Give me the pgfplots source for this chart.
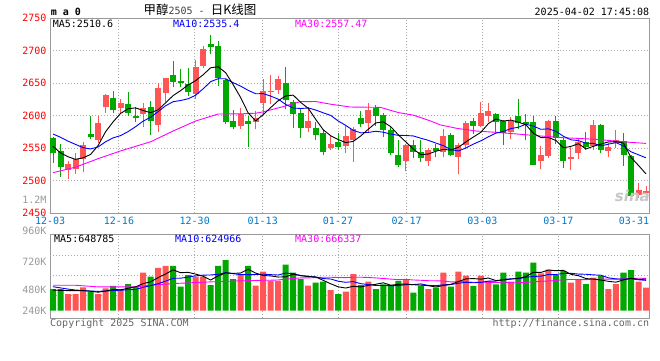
\documentclass[border=0pt]{standalone}
\usepackage{pgfplots}
\pgfplotsset{compat=1.18}
\usepackage{pgfplotstable}
\usepackage{fontspec}
\setmainfont{DejaVu Sans Mono}
\newfontfamily\cjk{Noto Sans CJK SC}
\newfontfamily\logofont{DejaVu Sans}
\definecolor{cred}{HTML}{FF5555}
\definecolor{cgreen}{HTML}{00A800}
\definecolor{cmag}{HTML}{FF00FF}
\definecolor{cblue}{HTML}{0000FF}
\definecolor{cdate}{HTML}{0078C8}
\definecolor{cgrid}{HTML}{AAAAAA}
\definecolor{cframe}{HTML}{999999}
\definecolor{clab}{HTML}{999999}
\newcommand\f{\fontsize{10bp}{12bp}\selectfont}

\pgfplotstableread{
i o h l c
2 2517 2530 2503 2525.5
3 2518.5 2543 2510.5 2533
4 2533 2560 2513 2555
6 2563 2600 2558 2589
7 2613 2633 2604 2632
9 2612 2626 2605 2620
12 2602 2620 2583 2612
14 2585.5 2650 2575 2642
15 2635 2658 2621 2657.5
19 2633 2686 2626 2674.5
20 2676 2708 2673 2703
25 2584 2612 2580 2603
27 2591 2608 2579 2597
28 2620 2657 2602 2638
29 2636 2662 2618 2637.5
30 2640 2661 2633 2656
34 2581.5 2613 2575 2592
37 2550 2571 2548 2557
39 2553 2585 2543 2569
40 2562.5 2582 2529 2580
42 2589.5 2619 2575 2609
47 2531 2556 2515.5 2555
50 2530 2551 2523 2547
52 2545 2580 2536 2569
54 2537 2558 2510 2555
55 2555 2592 2549 2589
57 2585 2621 2583 2605
58 2600 2620 2590 2607
61 2575 2598 2565 2591.5
65 2530.5 2554 2518 2540
66 2538 2593 2535 2592
69 2534 2553 2516 2536
70 2543 2564 2533 2560
72 2554 2594 2547 2586.5
74 2546 2557.5 2537 2552.5
75 2557.5 2578 2551 2562.5
78 2478 2496 2474 2486
79 2481 2492 2473 2485
}\redK

\pgfplotstableread{
i o h l c
0 2566 2567 2528 2542
1 2546.5 2556 2506 2521
5 2572 2599 2565 2568
8 2628 2638 2604 2609
10 2618 2637 2600 2604
11 2600 2614 2591 2596
13 2614 2622 2571 2592
16 2662 2684 2644 2652
17 2654 2672 2645 2650
18 2649 2674 2631 2636
21 2710 2725 2695 2706
22 2707 2715 2646 2658
23 2655 2657 2587 2590
24 2592 2609 2579 2583
26 2592 2600 2552 2588
31 2650 2675 2610 2625
32 2621 2624 2581 2603
33 2604 2610 2566 2581.5
35 2581.5 2590 2562 2571
36 2574 2580 2539 2545
38 2560 2573 2547 2552
41 2597 2607 2583 2587
43 2612 2616 2585 2600
44 2601 2605 2567 2578
45 2578 2585 2540 2542
46 2540 2562 2521.5 2524.5
48 2555 2563 2534.5 2545
49 2545 2562 2529 2534.5
51 2551 2557 2536 2546
53 2571 2573 2538 2540
56 2592.5 2596 2572 2584
59 2602 2605 2575 2590.5
60 2592 2594 2555 2573
62 2600 2626 2580 2589
63 2590 2602 2562 2587
64 2591 2599 2525 2525
67 2592 2599 2556 2566
68 2562.5 2566 2520 2531
71 2560 2575.5 2547 2552
73 2586.5 2587 2542 2548
76 2561 2574 2523 2540
77 2538 2539 2475 2477
}\greenK

\pgfplotstableread{
i v
0 2553
1 2543
2 2537
3 2533
4 2535.3
5 2540.5
6 2554.1
7 2575.4
8 2590.6
9 2603.6
10 2610.8
11 2612.2
12 2608.2
13 2604.8
14 2609.2
15 2619.9
16 2631.1
17 2638.7
18 2647.5
19 2654
20 2663.1
21 2673.9
22 2675.5
23 2666.3
24 2648
25 2628
26 2604.4
27 2592.2
28 2601.8
29 2612.6
30 2623.2
31 2630.6
32 2631.8
33 2620.5
34 2611.5
35 2594.5
36 2578.5
37 2569.3
38 2563.4
39 2558.8
40 2560.6
41 2569
42 2579.4
43 2589
44 2590.8
45 2583.2
46 2570.7
47 2559.9
48 2548.9
49 2540.2
50 2541.2
51 2545.5
52 2548.3
53 2547.3
54 2551.4
55 2559.8
56 2567.4
57 2574.6
58 2588
59 2595.1
60 2591.9
61 2593.4
62 2590.2
63 2586.2
64 2573.1
65 2566.5
66 2566.6
67 2562
68 2550.8
69 2553
70 2557
71 2549
72 2553.1
73 2556.5
74 2559.8
75 2560.3
76 2557.9
77 2536
78 2523.6
79 2510.6
}\maFive

\pgfplotstableread{
i v
0 2572
1 2567
2 2561
3 2556
4 2551
5 2549
6 2552
7 2560
8 2566
9 2569.5
10 2575.7
11 2583.2
12 2591.8
13 2597.7
14 2606.4
15 2615.4
16 2621.7
17 2623.5
18 2626.2
19 2631.6
20 2641.5
21 2652.5
22 2657.1
23 2656.9
24 2651
25 2645.6
26 2639.2
27 2633.9
28 2634.1
29 2630.3
30 2625.6
31 2617.5
32 2612
33 2611.2
34 2612.1
35 2608.9
36 2604.6
37 2600.6
38 2592
39 2585.2
40 2577.6
41 2573.8
42 2574.4
43 2576.2
44 2574.8
45 2571.9
46 2569.9
47 2569.7
48 2569
49 2565.5
50 2562.2
51 2558.1
52 2554.1
53 2548.1
54 2545.8
55 2550.5
56 2556.5
57 2561.5
58 2567.7
59 2573.3
60 2575.9
61 2580.4
62 2582.4
63 2587.1
64 2584.1
65 2579.2
66 2580
67 2576.1
68 2568.5
69 2563.1
70 2561.8
71 2557.8
72 2557.6
73 2553.7
74 2556.4
75 2558.7
76 2553.5
77 2544.6
78 2540
79 2535.4
}\maTen

\pgfplotstableread{
i v
0 2512.5
3 2521
6 2534
9 2546
13 2560
16 2576.6
19 2592
22 2602.7
25 2603
27 2604
28 2606
30.6 2614
32.9 2621.7
35 2622
36.9 2618
39.6 2613.5
43.6 2613
44.5 2610
46 2605
48 2601
50.2 2592.5
51.6 2586
53.8 2580.7
56.4 2576.6
59.1 2574.5
61.8 2572
64.4 2569.4
68 2566.3
72.4 2563.8
76 2560
79 2557.5
}\maThirty

\pgfplotstableread{
i v
2 344
3 344
4 482
6 344
7 461
9 447
12 783
14 880
15 921
19 700
20 700
25 735
27 515
28 803
29 612
30 612
34 515
37 426
39 391
40 756
42 597
47 632
50 447
52 783
54 803
55 721
57 721
58 612
61 597
65 770
66 845
69 577
70 632
72 680
74 447
75 550
78 597
79 474
}\redV

\pgfplotstableread{
i v
0 447
1 447
5 391
8 509
10 550
11 494
13 700
16 921
17 494
18 735
21 529
22 921
23 1044
24 653
26 921
31 948
32 783
33 653
35 577
36 597
38 344
41 529
43 447
44 544
45 515
46 612
48 371
49 515
51 474
53 494
56 509
59 544
60 783
62 803
63 783
64 989
67 735
68 818
71 550
73 715
76 783
77 838
}\greenV

\pgfplotstableread{
i v
0 425
1 418
2 414
3 412
4 413
5 402
6 381
7 404
8 437
9 430
10 462
11 492
12 557
13 595
14 681
15 756
16 841
17 783
18 790
19 754
20 710
21 632
22 717
23 779
24 769
25 776
26 855
27 774
28 725
29 717
30 693
31 698
32 752
33 722
34 702
35 695
36 625
37 554
38 492
39 467
40 503
41 489
42 523
43 544
44 575
45 526
46 543
47 550
48 535
49 529
50 515
51 488
52 518
53 543
54 600
55 655
56 662
57 650
58 673
59 621
60 634
61 651
62 668
63 702
64 791
65 788
66 838
67 824
68 831
69 749
70 721
71 662
72 651
73 631
74 605
75 588
76 635
77 667
78 643
79 649
}\vmaFive

\pgfplotstableread{
i v
0 494
1 470
2 445
3 426
4 415
5 405
6 399
7 405
8 415
9 422
10 432
11 437
12 481
13 516
14 556
15 609
16 667
17 670
18 693
19 718
20 733
21 736
22 750
23 785
24 762
25 743
26 743
27 745
28 752
29 743
30 735
31 776
32 763
33 724
34 710
35 694
36 662
37 653
38 607
39 585
40 599
41 557
42 539
43 518
44 521
45 515
46 516
47 537
48 539
49 552
50 521
51 515
52 534
53 539
54 565
55 585
56 575
57 584
58 608
59 611
60 644
61 657
62 659
63 688
64 706
65 711
66 745
67 746
68 767
69 770
70 755
71 750
72 738
73 731
74 677
75 655
76 649
77 659
78 637
79 625
}\vmaTen

\pgfplotstableread{
i v
0 524
3 524
6 491
11 491
13 524
16 559
21 594
25 615
28 627
29 628
30 633
31 650
32 664
33 675
34 676
35 682
36 690
37 689
38 684
39 682
40 689
41 690
42 684
43 675
44 664
45 651
46 640
47 645
48 633
49 627
50 618
51 616
52 612
53 593
54 598
55 598
56 584
57 591
58 585
59 582
60 588
61 576
62 577
63 581
64 597
65 604
66 612
67 622
68 638
69 644
70 640
71 641
72 644
73 652
74 649
75 650
76 656
77 661
78 669
79 666
}\vmaThirty

\begin{document}
\begin{tikzpicture}[x=1bp,y=1bp]
\path[use as bounding box] (0,0) rectangle (660,360);

% ---------------- main K-line panel ----------------
\begin{axis}[
  at={(50bp,146.7bp)}, anchor=south west, scale only axis,
  width=599.3bp, height=195bp,
  xmin=-0.4, xmax=79.44, ymin=2450, ymax=2750,
  axis line style={cframe, line width=1bp},
  major tick length=0pt, tick style={draw=none},
  xtick={-0.39,8.79,18.88,27.94,37.97,47.12,57.19,67.32,77.4},
  xticklabels={12-03,12-16,12-30,01-13,01-27,02-17,03-03,03-17,03-31},
  extra x ticks={8.79,18.88,27.94,37.97,47.12,57.19,67.32},
  extra x tick labels={},
  extra x tick style={grid=major},
  ytick={2450,2500,2550,2600,2650,2700,2750},
  yticklabels={2450,2500,2550,2600,2650,2700,2750},
  ymajorgrids,
  grid style={cgrid, line width=1bp, dash pattern=on 1bp off 2bp},
  xticklabel style={text=cdate, font=\f},
  yticklabel style={text=red, font=\f},
]
% wicks
\addplot[draw=none, mark=none, forget plot,
  error bars/.cd, y dir=plus, y explicit, error mark=none,
  error bar style={draw=cred, line width=1bp}]
  table[x=i, y=l, y error expr=\thisrow{h}-\thisrow{l}] {\redK};
\addplot[draw=none, mark=none, forget plot,
  error bars/.cd, y dir=plus, y explicit, error mark=none,
  error bar style={draw=cgreen, line width=1bp}]
  table[x=i, y=l, y error expr=\thisrow{h}-\thisrow{l}] {\greenK};
% bodies
\addplot[draw=none, mark=none, forget plot,
  error bars/.cd, y dir=plus, y explicit, error mark=none,
  error bar style={draw=cred, line width=6bp}]
  table[x=i, y=o, y error expr=\thisrow{c}-\thisrow{o}] {\redK};
\addplot[draw=none, mark=none, forget plot,
  error bars/.cd, y dir=plus, y explicit, error mark=none,
  error bar style={draw=cgreen, line width=6bp}]
  table[x=i, y=c, y error expr=\thisrow{o}-\thisrow{c}] {\greenK};
% moving averages
\addplot[cmag, line width=0.9bp, mark=none] table[x=i, y=v] {\maThirty};
\addplot[cblue, line width=0.9bp, mark=none] table[x=i, y=v] {\maTen};
\addplot[black, line width=0.9bp, mark=none] table[x=i, y=v] {\maFive};
\end{axis}

% ---------------- volume panel ----------------
\begin{axis}[
  at={(50bp,41.7bp)}, anchor=south west, scale only axis,
  width=599.3bp, height=84bp,
  xmin=-0.4, xmax=79.44, ymin=-156.6, ymax=1573.8,
  axis line style={cframe, line width=1bp},
  major tick length=0pt, tick style={draw=none},
  xtick={8.79,18.88,27.94,37.97,47.12,57.19,67.32}, xticklabels={},
  xmajorgrids,
  ytick={0,420,1003}, yticklabels={240K,480K,720K},
  extra y ticks={323,735,1147}, extra y tick labels={},
  extra y tick style={grid=major},
  grid style={cgrid, line width=1bp, dash pattern=on 1bp off 2bp},
  yticklabel style={text=clab, font=\f},
]
\addplot[ybar, bar width=0.8, bar shift=0pt, fill=cred, draw=none, forget plot]
  table[x=i, y=v] {\redV};
\addplot[ybar, bar width=0.8, bar shift=0pt, fill=cgreen, draw=none, forget plot]
  table[x=i, y=v] {\greenV};
\addplot[cmag, line width=0.9bp, mark=none] table[x=i, y=v] {\vmaThirty};
\addplot[cblue, line width=0.9bp, mark=none] table[x=i, y=v] {\vmaTen};
\addplot[black, line width=0.9bp, mark=none] table[x=i, y=v] {\vmaFive};
\end{axis}

% ---------------- texts ----------------
\node[anchor=base west, inner sep=0, font=\f\bfseries] at (50.7,344.3) {m a 0};
\node[anchor=base, inner sep=0] at (200,346)
  {{\cjk\fontsize{12.5bp}{14bp}\selectfont 甲醇}{\f\color{black!75}2505 - }{\cjk\fontsize{12.5bp}{14bp}\selectfont 日K线图}};
\node[anchor=base east, inner sep=0, font=\f] at (649.3,344.3) {2025-04-02 17:45:08};

\node[anchor=base west, inner sep=0, font=\f] at (52.7,332.65) {MA5:2510.6};
\node[anchor=base west, inner sep=0, font=\f, text=cblue] at (173,332.65) {MA10:2535.4};
\node[anchor=base west, inner sep=0, font=\f, text=cmag] at (295,332.65) {MA30:2557.47};

\node[anchor=base west, inner sep=0, font=\f] at (54,117.85) {MA5:648785};
\node[anchor=base west, inner sep=0, font=\f, text=cblue] at (175,117.85) {MA10:624966};
\node[anchor=base west, inner sep=0, font=\f, text=cmag] at (295,117.85) {MA30:666337};

\node[anchor=base east, inner sep=0, font=\f, text=clab] at (46.7,156.05) {1.2M};
\node[anchor=base east, inner sep=0, font=\f, text=clab] at (46.7,125.35) {960K};

\node[anchor=base east, inner sep=0, text=black!22, font=\logofont\bfseries\itshape\fontsize{15bp}{15bp}\selectfont] at (650,159) {sina};

\node[anchor=base west, inner sep=0, font=\f, text=black!60] at (50,33.4) {Copyright 2025 SINA.COM};
\node[anchor=base east, inner sep=0, font=\f, text=black!60] at (649.3,33.4) {http://finance.sina.com.cn};
\end{tikzpicture}
\end{document}
